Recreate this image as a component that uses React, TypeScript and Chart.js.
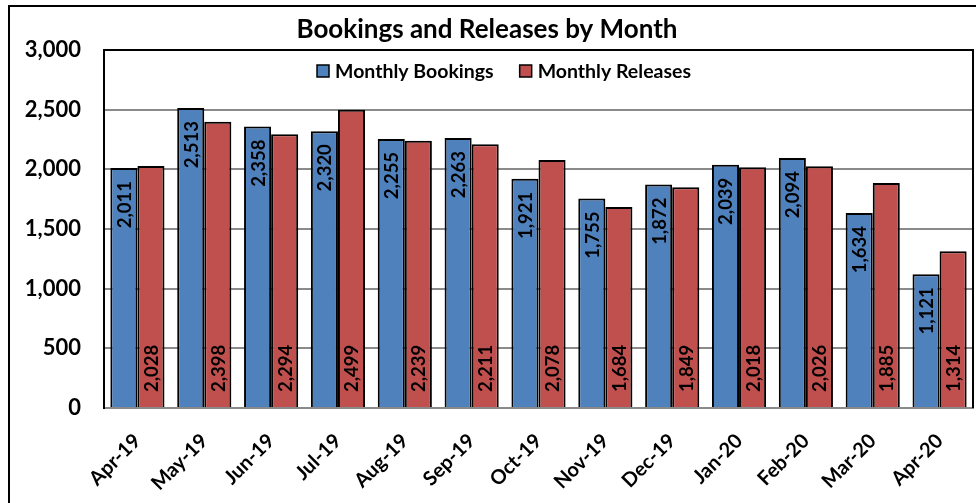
import React, { useEffect, useRef } from "react";
import { Chart, registerables } from "chart.js";

Chart.register(...registerables);

const months = ["Apr-19", "May-19", "Jun-19", "Jul-19", "Aug-19", "Sep-19", "Oct-19", "Nov-19", "Dec-19", "Jan-20", "Feb-20", "Mar-20", "Apr-20"];
const bookings = [2011, 2513, 2358, 2320, 2255, 2263, 1921, 1755, 1872, 2039, 2094, 1634, 1121];
const releases = [2028, 2398, 2294, 2499, 2239, 2211, 2078, 1684, 1849, 2018, 2026, 1885, 1314];
const yTicks = [0, 500, 1000, 1500, 2000, 2500, 3000];
const chartTitle = "Bookings and Releases by Month";
const seriesNames = ["Monthly Bookings", "Monthly Releases"];

const BLUE = "#4F81BD";
const RED = "#C0504D";
const FONT = "Lato, 'Open Sans', sans-serif";

const fmt = (v: number) => v.toLocaleString("en-US");

const decorPlugin = {
  id: "decor",
  beforeDraw(chart: any) {
    const ctx = chart.ctx;
    ctx.save();
    ctx.fillStyle = "#fff";
    ctx.fillRect(0, 0, chart.width, chart.height);
    // outer frame (cropped on right/bottom)
    ctx.strokeStyle = "#000";
    ctx.lineWidth = 2;
    ctx.beginPath();
    ctx.moveTo(9, chart.height);
    ctx.lineTo(9, 6);
    ctx.lineTo(chart.width, 6);
    ctx.stroke();
    ctx.restore();
  },
  afterDatasetsDraw(chart: any) {
    const ctx = chart.ctx;
    const area = chart.chartArea;
    ctx.save();
    // plot area border top/right
    ctx.strokeStyle = "#000";
    ctx.lineWidth = 2;
    ctx.beginPath();
    ctx.moveTo(area.left, area.top);
    ctx.lineTo(area.right, area.top);
    ctx.lineTo(area.right, area.bottom);
    ctx.stroke();

    // data labels
    ctx.font = `bold 18.5px ${FONT}`;
    ctx.fillStyle = "#000";
    ctx.textBaseline = "middle";
    chart.data.datasets.forEach((ds: any, di: number) => {
      const meta = chart.getDatasetMeta(di);
      meta.data.forEach((bar: any, i: number) => {
        const txt = fmt(ds.data[i]);
        ctx.save();
        if (di === 0) {
          ctx.translate(bar.x, bar.y + 13);
          ctx.rotate(-Math.PI / 2);
          ctx.textAlign = "right";
        } else {
          ctx.translate(bar.x, bar.base - 15);
          ctx.rotate(-Math.PI / 2);
          ctx.textAlign = "left";
        }
        ctx.fillText(txt, 0, 1);
        ctx.restore();
      });
    });

    // title
    ctx.font = `bold 26px ${FONT}`;
    ctx.textAlign = "center";
    ctx.textBaseline = "middle";
    ctx.fillText(chartTitle, 487, 30);

    // legend
    ctx.font = `bold 19.5px ${FONT}`;
    ctx.textAlign = "left";
    ctx.textBaseline = "alphabetic";
    const box = 12;
    const gapBoxText = 6;
    const gapItems = 26;
    const widths = seriesNames.map((n) => ctx.measureText(n).width);
    const total = widths.reduce((a, w) => a + box + gapBoxText + w, 0) + gapItems;
    let x = 504 - total / 2;
    const colors = [BLUE, RED];
    seriesNames.forEach((n, i) => {
      ctx.fillStyle = colors[i];
      ctx.fillRect(x, 65, box, box);
      ctx.strokeStyle = "#000";
      ctx.lineWidth = 1.5;
      ctx.strokeRect(x, 65, box, box);
      ctx.fillStyle = "#000";
      ctx.fillText(n, x + box + gapBoxText, 78);
      x += box + gapBoxText + widths[i] + gapItems;
    });
    ctx.restore();
  },
};

export default function App() {
  const ref = useRef<HTMLCanvasElement>(null);
  useEffect(() => {
    document.body.style.margin = "0";
    const chart = new Chart(ref.current!, {
      type: "bar",
      data: {
        labels: months,
        datasets: [
          { label: seriesNames[0], data: bookings, backgroundColor: BLUE, borderColor: "#000", borderWidth: 2, categoryPercentage: 0.81, barPercentage: 1 },
          { label: seriesNames[1], data: releases, backgroundColor: RED, borderColor: "#000", borderWidth: 2, categoryPercentage: 0.81, barPercentage: 1 },
        ],
      },
      options: {
        animation: false,
        responsive: false,
        layout: { padding: { top: 50, right: 3, left: 0, bottom: 0 } },
        plugins: { legend: { display: false }, title: { display: false }, tooltip: { enabled: false } },
        scales: {
          x: {
            grid: { display: false },
            border: { display: true, color: "#8a8a8a", width: 2 },
            ticks: {
              color: "#000",
              font: { family: FONT, size: 20, weight: "bold" },
              maxRotation: 45,
              minRotation: 45,
              padding: 13,
            },
            afterFit: (s: any) => { s.height = 95; },
          },
          y: {
            min: 0,
            max: 3000,
            afterBuildTicks: (s: any) => { s.ticks = yTicks.map((v) => ({ value: v })); },
            grid: { color: "#8a8a8a", lineWidth: 2, drawTicks: false },
            border: { display: true, color: "#000", width: 2 },
            ticks: {
              color: "#000",
              font: { family: FONT, size: 22, weight: "bold" },
              padding: 23,
              callback: (v: any) => fmt(Number(v)),
            },
            afterFit: (s: any) => { s.width = 104; },
          },
        },
      },
      plugins: [decorPlugin],
    });
    return () => chart.destroy();
  }, []);
  return (
    <div style={{ width: 976, height: 503 }}>
      <canvas ref={ref} width={976} height={503} />
    </div>
  );
}
